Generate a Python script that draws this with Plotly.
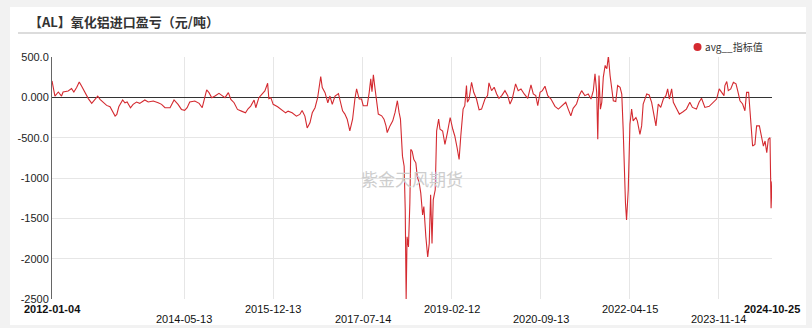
import plotly.graph_objects as go

TITLE = "【AL】氧化铝进口盈亏（元/吨）"
SERIES_NAME = "avg__指标值"
WATERMARK = "紫金天风期货"

dates = [
    "2012-01-04", "2012-01-23", "2012-02-14", "2012-03-06", "2012-03-16", "2012-04-18", "2012-05-10",
    "2012-05-25", "2012-06-12", "2012-06-29", "2012-07-14", "2012-08-05", "2012-08-27", "2012-09-18",
    "2012-10-05", "2012-10-27", "2012-11-11", "2012-12-02", "2012-12-24", "2013-01-15", "2013-02-02",
    "2013-02-17", "2013-02-28", "2013-03-13", "2013-04-07", "2013-04-22", "2013-05-06", "2013-05-28",
    "2013-06-14", "2013-07-06", "2013-07-27", "2013-08-29", "2013-09-20", "2013-10-23", "2013-11-24",
    "2013-12-16", "2014-01-07", "2014-02-09", "2014-03-07", "2014-04-02", "2014-04-24", "2014-05-15",
    "2014-05-31", "2014-06-17", "2014-07-20", "2014-08-17", "2014-09-06", "2014-09-19", "2014-10-05",
    "2014-10-20", "2014-11-07", "2014-11-28", "2014-12-24", "2015-01-11", "2015-02-01", "2015-02-23",
    "2015-03-11", "2015-04-01", "2015-04-23", "2015-05-19", "2015-06-14", "2015-07-01", "2015-07-18",
    "2015-08-09", "2015-08-20", "2015-09-09", "2015-09-27", "2015-10-18", "2015-11-05", "2015-11-13",
    "2015-11-26", "2015-12-11", "2016-01-09", "2016-02-04", "2016-03-01", "2016-03-17", "2016-04-12",
    "2016-05-10", "2016-06-01", "2016-06-16", "2016-07-04", "2016-07-19", "2016-08-06", "2016-08-21",
    "2016-09-08", "2016-09-25", "2016-10-04", "2016-10-15", "2016-10-25", "2016-11-12", "2016-11-30",
    "2016-12-14", "2016-12-29", "2017-01-16", "2017-02-07", "2017-02-25", "2017-03-06", "2017-03-21",
    "2017-04-05", "2017-04-22", "2017-05-10", "2017-05-25", "2017-06-05", "2017-06-22", "2017-07-07",
    "2017-07-18", "2017-08-13", "2017-08-26", "2017-09-05", "2017-09-13", "2017-09-22", "2017-10-03",
    "2017-10-13", "2017-10-24", "2017-11-15", "2017-11-30", "2017-12-13", "2017-12-21", "2018-01-08",
    "2018-01-26", "2018-02-10", "2018-02-25", "2018-03-08", "2018-03-17", "2018-03-30", "2018-04-10",
    "2018-04-17", "2018-04-23", "2018-04-29", "2018-05-08", "2018-05-17", "2018-05-23", "2018-06-01",
    "2018-06-12", "2018-06-25", "2018-07-04", "2018-07-17", "2018-07-27", "2018-08-08", "2018-08-16",
    "2018-08-29", "2018-09-10", "2018-09-20", "2018-09-29", "2018-10-08", "2018-10-16", "2018-10-29",
    "2018-11-07", "2018-11-20", "2018-11-29", "2018-12-16", "2018-12-31", "2019-01-16", "2019-02-03",
    "2019-02-20", "2019-03-05", "2019-03-20", "2019-04-02", "2019-04-13", "2019-04-28", "2019-05-09",
    "2019-05-20", "2019-05-26", "2019-06-06", "2019-06-22", "2019-07-06", "2019-07-24", "2019-08-10",
    "2019-08-26", "2019-09-17", "2019-10-04", "2019-10-13", "2019-10-30", "2019-11-16", "2019-12-02",
    "2019-12-17", "2020-01-04", "2020-01-25", "2020-02-12", "2020-02-27", "2020-03-12", "2020-04-03",
    "2020-04-20", "2020-05-08", "2020-05-29", "2020-06-21", "2020-07-12", "2020-07-27", "2020-08-12",
    "2020-08-25", "2020-09-09", "2020-09-24", "2020-10-11", "2020-10-29", "2020-11-19", "2020-12-15",
    "2021-01-06", "2021-01-28", "2021-02-23", "2021-03-11", "2021-03-28", "2021-04-12", "2021-05-04",
    "2021-05-21", "2021-06-06", "2021-06-27", "2021-07-19", "2021-08-06", "2021-08-21", "2021-09-01",
    "2021-09-12", "2021-09-19", "2021-09-27", "2021-10-06", "2021-10-15", "2021-10-25", "2021-11-06",
    "2021-11-17", "2021-11-27", "2021-12-08", "2021-12-19", "2021-12-29", "2022-01-14", "2022-01-26",
    "2022-02-11", "2022-02-22", "2022-03-03", "2022-03-09", "2022-03-18", "2022-03-25", "2022-04-05",
    "2022-04-16", "2022-04-27", "2022-05-07", "2022-05-25", "2022-06-03", "2022-06-20", "2022-07-01",
    "2022-07-11", "2022-08-03", "2022-08-19", "2022-09-04", "2022-09-19", "2022-10-02", "2022-10-17",
    "2022-11-02", "2022-11-19", "2022-12-06", "2022-12-17", "2022-12-28", "2023-01-12", "2023-01-23",
    "2023-02-14", "2023-03-03", "2023-03-27", "2023-04-18", "2023-05-10", "2023-05-27", "2023-06-22",
    "2023-07-09", "2023-07-25", "2023-08-16", "2023-09-13", "2023-10-09", "2023-10-31", "2023-11-17",
    "2023-12-03", "2023-12-18", "2023-12-24", "2024-01-05", "2024-01-15", "2024-01-31", "2024-02-17",
    "2024-03-05", "2024-03-16", "2024-03-31", "2024-04-17", "2024-05-02", "2024-05-13", "2024-05-26",
    "2024-06-04", "2024-06-15", "2024-06-21", "2024-07-06", "2024-07-17", "2024-08-04", "2024-08-19",
    "2024-08-30", "2024-09-10", "2024-09-21", "2024-10-01", "2024-10-12", "2024-10-19", "2024-10-25",
]

values = [
    204, 16, 66, 16, 66, 79, 108,
    66, 121, 191, 141, 58, -16, -75,
    -33, 16, -25, -58, -100, -117, -171,
    -233, -212, -117, -33, -67, -58, -129,
    -87, -58, -75, -33, -58, -46, -67,
    -87, -129, -129, -33, -87, -150, -162,
    -129, -58, -46, -75, -129, -25, 92,
    58, -4, 16, 50, 25, -4, 58,
    -25, -67, -150, -171, -192, -142, -108,
    -33, -129, -4, 37, 79, 175, -16,
    -4, -87, -117, -150, -192, -171, -192,
    -233, -212, -162, -233, -379, -316, -192,
    -129, -4, 100, 258, 121, 58, -67,
    16, -87, 16, 46, -87, -167, -208,
    -271, -417, -271, -21, 104, -21, -21,
    -104, -104, 62, 229, 71, 279, 104,
    -21, -208, -229, -271, -354, -437, -354,
    -292, -187, -42, -187, -271, -729, -854,
    -1396, -2500, -1729, -1854, -1312, -646, -667,
    -771, -812, -979, -1062, -1187, -1458, -1354,
    -1729, -1979, -1812, -1208, -1812, -1271, -1146,
    -417, -271, -396, -417, -583, -437, -250,
    -396, -479, -625, -771, -479, -146, -104,
    146, -62, -21, 187, 62, -21, -154,
    -146, -21, 21, 179, 83, 125, 42,
    -12, 21, 83, 21, -83, -21, 167,
    83, 104, 42, -12, 154, 42, 21,
    -104, 62, 83, 137, 21, -21, -112,
    -146, -104, -62, -146, -229, -137, -83,
    21, 83, 21, 42, -21, 83, 292,
    62, -521, 271, -146, -62, 250, 396,
    354, 512, 271, 104, -42, -52, 146,
    125, 40, -396, -896, -1312, -1521, -1146,
    -333, -146, -292, -250, -292, -458, -354,
    -83, 42, 29, -62, -229, -354, -83,
    -125, -21, 21, 104, -21, 104, -62,
    -146, -208, -179, -146, -62, -125, -146,
    -62, -12, -125, -112, -62, -21, 104,
    62, 21, 146, 196, 83, 104, 187,
    167, 83, -42, -83, -167, 62, 62,
    -167, -521, -604, -583, -354, -354, -479,
    -604, -542, -687, -521, -500, -1375, -1042,
]

x_start = "2012-01-04"
x_end = "2024-10-25"
grid_dates = ["2014-05-13", "2015-12-13", "2017-07-14", "2019-02-12",
              "2020-09-13", "2022-04-15", "2023-11-14"]
x_labels = ["2012-01-04", "2014-05-13", "2015-12-13", "2017-07-14", "2019-02-12",
            "2020-09-13", "2022-04-15", "2023-11-14", "2024-10-25"]
y_ticks = [500, 0, -500, -1000, -1500, -2000, -2500]
y_tick_text = ["500.0", "0.000", "-500.0", "-1000", "-1500", "-2000", "-2500"]

RED = "#d42a30"
FONT = "Liberation Sans, Arial, sans-serif"

# plot area: x 52..772, y 57..299 (px)
L, R, T, B = 52, 772, 57, 299
W, H = 812, 328


def px(xp):
    return (xp - L) / (R - L)


def py(yp):
    return (B - yp) / (B - T)


fig = go.Figure()
fig.add_trace(go.Scatter(
    x=dates, y=values, mode="lines", name=SERIES_NAME,
    line=dict(color=RED, width=1.1), showlegend=False,
))

shapes = [
    dict(type="rect", xref="paper", yref="paper", x0=px(10), x1=px(806), y0=py(325), y1=py(7),
         fillcolor="white", line=dict(width=0), layer="below"),
    dict(type="line", xref="paper", yref="paper", x0=px(18), x1=px(806), y0=py(33), y1=py(33),
         line=dict(color="#dcdcdc", width=2)),
    dict(type="circle", xref="paper", yref="paper", x0=px(693.5), x1=px(701.5), y0=py(51), y1=py(43),
         fillcolor=RED, line=dict(width=0)),
]

annotations = [
    dict(text="<b>" + TITLE + "</b>", xref="paper", yref="paper", x=px(27), y=py(21),
         xanchor="left", yanchor="middle", showarrow=False,
         font=dict(family="Noto Sans CJK SC", size=13, color="#333333")),
    dict(text=SERIES_NAME, xref="paper", yref="paper", x=px(703), y=py(47),
         xanchor="left", yanchor="middle", showarrow=False,
         font=dict(family="Noto Sans CJK SC, " + FONT, size=10, color="#333333")),
    dict(text=WATERMARK, xref="paper", yref="paper", x=px(412), y=py(178),
         xanchor="center", yanchor="middle", showarrow=False,
         font=dict(family="Noto Sans CJK SC", size=17, color="#cdcdcd")),
]

for i, lab in enumerate(x_labels):
    row_y = 309 if i % 2 == 0 else 318.5
    bold = i == 0 or i == len(x_labels) - 1
    annotations.append(dict(
        text=("<b>%s</b>" % lab) if bold else lab, xref="x", yref="paper", x=lab, y=py(row_y),
        xanchor="center", yanchor="middle", showarrow=False,
        font=dict(family=FONT, size=11, color="#111111"),
    ))

fig.update_layout(
    width=W, height=H,
    margin=dict(l=L, r=W - R, t=T, b=H - B, pad=0),
    paper_bgcolor="#f2f2f2", plot_bgcolor="white",
    shapes=shapes, annotations=annotations, showlegend=False,
    xaxis=dict(type="date", range=[x_start, x_end], tickvals=grid_dates, showticklabels=False,
               showgrid=True, gridcolor="#e6e6e6", gridwidth=1, zeroline=False, showline=False,
               ticks=""),
    yaxis=dict(range=[-2500, 500], tickvals=y_ticks, ticktext=y_tick_text,
               showgrid=True, gridcolor="#e6e6e6", gridwidth=1,
               zeroline=True, zerolinecolor="#333333", zerolinewidth=1,
               showline=True, linecolor="#666666", linewidth=1, ticks="",
               tickfont=dict(family=FONT, size=11, color="#222222")),
)

fig.write_html("out.html")
